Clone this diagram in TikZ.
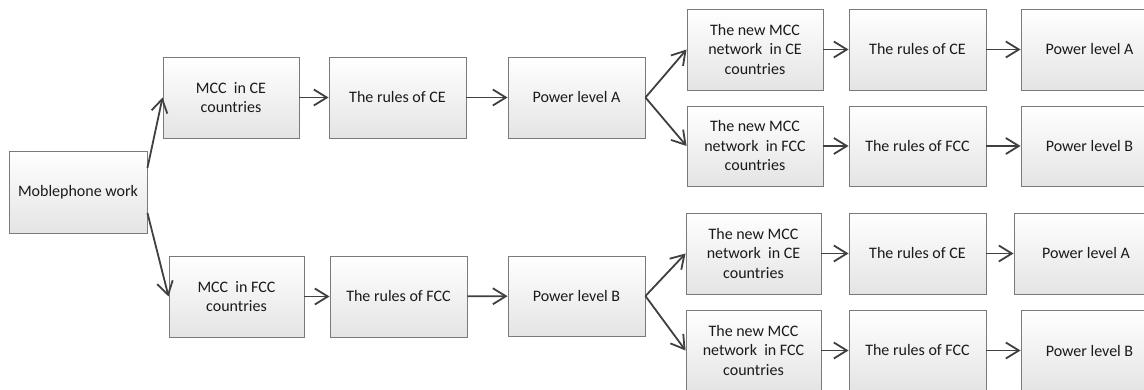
\documentclass[tikz,border=0pt]{standalone}
\usepackage{fontspec}
\setmainfont{Carlito}
\usetikzlibrary{arrows.meta}
\definecolor{boxline}{HTML}{7A7A7A}
\definecolor{boxbot}{HTML}{E4E4E4}
\definecolor{arrowc}{HTML}{404040}
\definecolor{txt}{HTML}{1A1A1A}
\tikzset{
  box/.style={rectangle, draw=boxline, line width=0.9pt, top color=white, bottom color=boxbot,
    minimum width=137pt, minimum height=81pt, inner sep=2pt, align=center, text=txt,
    font=\fontsize{16}{19.5}\selectfont},
  conn/.style={draw=arrowc, line width=1.8pt, -{Straight Barb[length=13pt,width=16pt]}}
}
\begin{document}
\begin{tikzpicture}[x=1pt,y=-1pt]
\useasboundingbox (0,0) rectangle (1144,390);
\clip (0,0) rectangle (1144,390);
\fill[white] (0,0) rectangle (1144,390);
% column 1
\node[box, minimum width=138pt, minimum height=82pt] (mob) at (78,192) {Moblephone work};
% upper branch
\node[box, minimum width=136pt] (mccce) at (231,97.5) {MCC~ in CE\\countries};
\node[box] (rce) at (397.5,97.5) {The rules of CE};
\node[box] (pa) at (576.5,97.5) {Power level A};
\node[box, minimum width=136pt] (n1) at (755,49.5) {The new MCC\\network~ in CE\\countries};
\node[box, minimum width=136pt, minimum height=80pt] (n2) at (755,146) {The new MCC\\network~ in FCC\\countries};
\node[box] (r1) at (917.5,49.5) {The rules of CE};
\node[box, minimum height=80pt] (r2) at (917.5,146) {The rules of FCC};
\node[box] (p1) at (1089.5,49.5) {Power level A};
\node[box, minimum height=80pt] (p2) at (1089.5,146) {Power level B};
% lower branch
\node[box, minimum width=135pt] (mccfcc) at (236.5,296.5) {MCC~ in FCC\\countries};
\node[box] (rfcc) at (398.5,296.5) {The rules of FCC};
\node[box, minimum height=80pt] (pb) at (576.5,296) {Power level B};
\node[box, minimum width=135pt] (n3) at (753.5,253.5) {The new MCC\\network~ in CE\\countries};
\node[box, minimum width=135pt] (n4) at (753.5,350.5) {The new MCC\\network~ in FCC\\countries};
\node[box] (r3) at (917.5,253.5) {The rules of CE};
\node[box] (r4) at (917.5,350.5) {The rules of FCC};
\node[box, minimum width=144pt] (p3) at (1086,253.5) {Power level A};
\node[box] (p4) at (1089.5,350.5) {Power level B};
% connectors
\draw[conn] ([yshift=24pt]mob.east) -- (mccce.west);
\draw[conn] ([yshift=-21pt]mob.east) -- (mccfcc.west);
\draw[conn] (mccce) -- (rce);
\draw[conn] (rce) -- (pa);
\draw[conn] (pa.east) -- (n1.west);
\draw[conn] (pa.east) -- (n2.west);
\draw[conn] (n1) -- (r1);
\draw[conn] (r1) -- (p1);
\draw[conn] (n2) -- (r2);
\draw[conn] (r2) -- (p2);
\draw[conn] (mccfcc) -- (rfcc);
\draw[conn] (rfcc) -- (pb);
\draw[conn] (pb.east) -- (n3.west);
\draw[conn] (pb.east) -- (n4.west);
\draw[conn] (n3) -- (r3);
\draw[conn] (r3) -- (p3);
\draw[conn] (n4) -- (r4);
\draw[conn] (r4) -- (p4);
\end{tikzpicture}
\end{document}
